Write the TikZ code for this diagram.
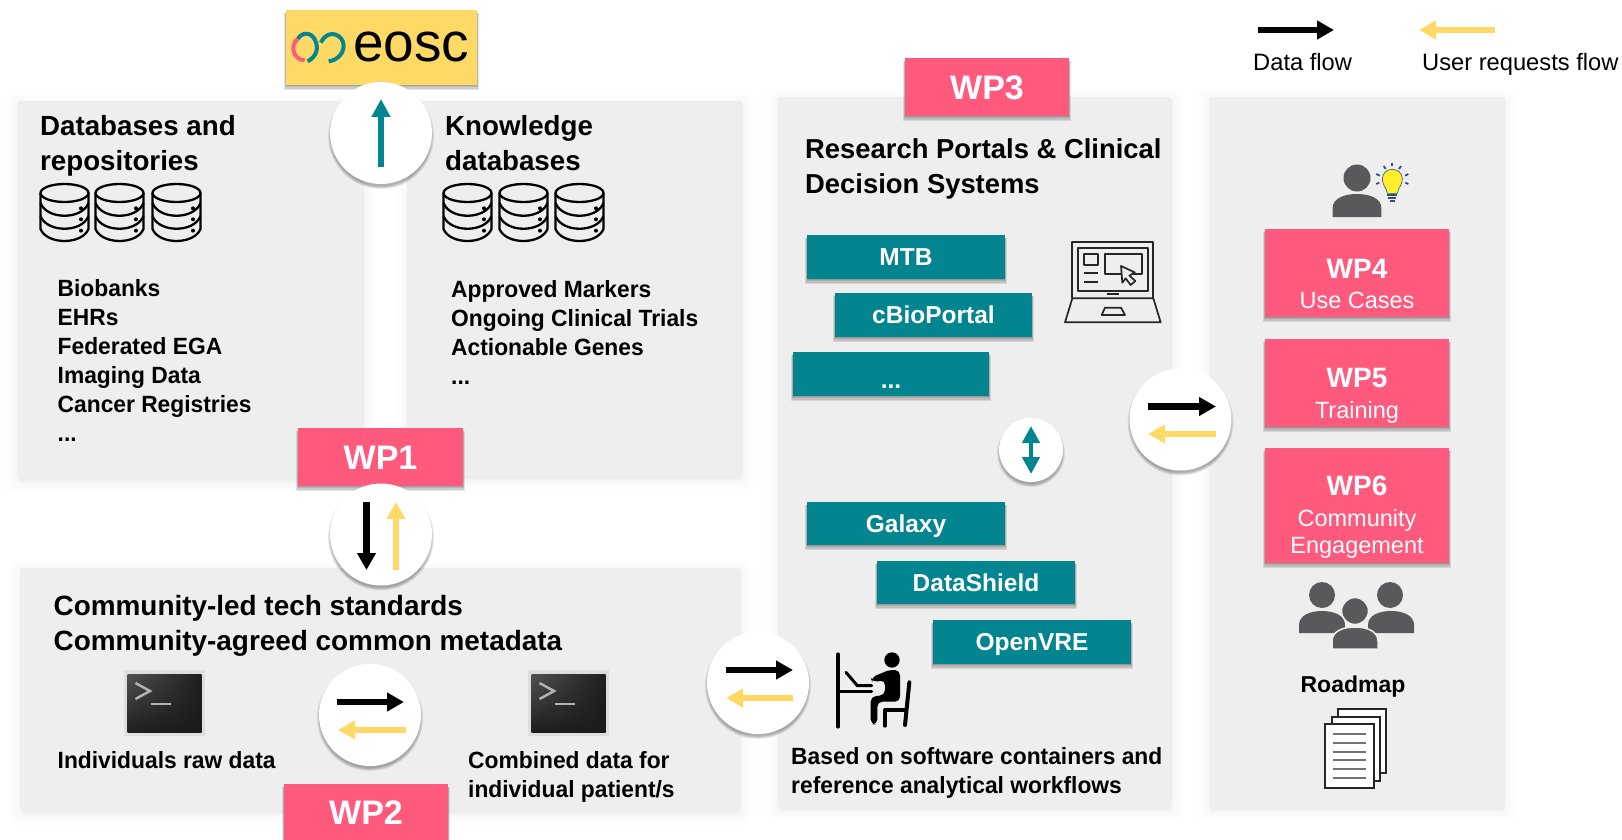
\documentclass[tikz,border=0pt]{standalone}
\usepackage{fontspec}
\setmainfont{Liberation Sans}
\newfontfamily\bodyfam[FakeStretch=0.97]{Liberation Sans}
\usetikzlibrary{arrows.meta,shadings}
\definecolor{wppink}{HTML}{FF5A7E}
\definecolor{flowyellow}{HTML}{FFD966}
\definecolor{wpteal}{HTML}{02858F}
\definecolor{panelgray}{HTML}{EEEEEE}
\definecolor{icongray}{HTML}{58595B}
\definecolor{eoscyellow}{HTML}{FFD966}
\definecolor{navy}{HTML}{2F4A85}
\tikzset{
  panel/.style={rectangle,rounded corners=3pt,fill=panelgray,inner sep=0pt},
  wpbox/.style={rectangle,fill=wppink,inner sep=0pt,text=white,font=\fontsize{34}{40}\selectfont\bfseries,text height=24.5pt,text depth=0pt},
  wpsub/.style={rectangle,fill=wppink,inner sep=0pt},
  tealbox/.style={rectangle,fill=wpteal,inner sep=0pt,text=white,font=\fontsize{24.5}{30}\selectfont\bfseries,text height=17.5pt,text depth=0pt},
  bubble/.style={circle,fill=white,inner sep=0pt},
  head/.style={inner sep=0pt,anchor=base west,align=left,font=\fontsize{27.7}{34.5}\selectfont\bfseries},
  body/.style={inner sep=0pt,anchor=base west,align=left,font=\bodyfam\fontsize{23.5}{29}\selectfont\bfseries},
  legendtxt/.style={inner sep=0pt,anchor=base west,font=\fontsize{23.7}{29}\selectfont},
  wptitle/.style={inner sep=0pt,anchor=base,text=white,font=\fontsize{28}{34}\selectfont\bfseries},
  wpline/.style={inner sep=0pt,anchor=base,text=white,font=\fontsize{23.5}{29}\selectfont},
  blackflow/.style={line width=6.5pt,black,-{Triangle[length=17pt,width=18pt]}},
  yellowflow/.style={line width=6.5pt,flowyellow,-{Triangle[length=17pt,width=18pt]}},
  tealflow/.style={line width=6pt,wpteal,-{Triangle[length=18pt,width=18pt]}},
  tealboth/.style={line width=4.5pt,wpteal,{Triangle[length=17pt,width=17pt]}-{Triangle[length=17pt,width=17pt]}},
}
% panel shadow: opaque greys fading out from the panel edge, darker under the panel
\newcommand{\softrect}[4]{%
  \foreach \i in {10,9,...,1}{\pgfmathsetmacro{\shd}{.03*(11-\i)*(11-\i)}
    \fill[black!\shd,rounded corners=5pt]
    ({#1-1.4*\i},{#2+3-1.4*\i}) rectangle ({#3+1.4*\i},{#4+3+1.4*\i});}
  \fill[black!4.5,rounded corners=2pt] ({#1+1},#4) rectangle ({#3-1},{#4+4});
  \fill[black!7,rounded corners=1pt] ({#1+2},#4) rectangle ({#3-2},{#4+2});}
% box shadow: tight, on the lower edge
\newcommand{\hardrect}[4]{%
  \foreach \i in {1,...,4}{\fill[black,opacity=.1]
    ({#1-.45*\i},{#2+3}) rectangle ({#3+.45*\i},{#4+1.2*\i});}}
\newcommand{\bx}[7]{% style,name,x1,y1,x2,y2,text
  \node[#1,minimum width={(#5-#3)*1pt},minimum height={(#6-#4)*1pt}] (#2) at ({(#3+#5)/2},{(#4+#6)/2}) {#7};}
\newcommand{\pnl}[5]{\softrect{#2}{#3}{#4}{#5}\bx{panel}{#1}{#2}{#3}{#4}{#5}{}}
\newcommand{\wpb}[6]{\hardrect{#2}{#3}{#4}{#5}\bx{wpbox}{#1}{#2}{#3}{#4}{#5}{#6}}
\newcommand{\wps}[5]{\hardrect{#2}{#3}{#4}{#5}\bx{wpsub}{#1}{#2}{#3}{#4}{#5}{}}
\newcommand{\tlb}[6]{\hardrect{#2}{#3}{#4}{#5}\bx{tealbox}{#1}{#2}{#3}{#4}{#5}{#6}}
\newcommand{\bub}[4]{% name,cx,cy,r
  \foreach \i in {1,...,5}{\fill[black,opacity=.07] (#2,{#3+3}) circle ({#4+.7*\i-1.5});}
  \node[bubble,minimum size={2*#4*1pt}] (#1) at (#2,#3) {};}
\newcommand{\arr}[6]{% style,name,x1,y1,x2,y2
  \coordinate (#2s) at (#3,#4); \coordinate (#2e) at (#5,#6);
  \draw[#1] (#2s) -- (#2e);}
\newcommand{\dbicon}[1]{%
  \begin{scope}[shift={(#1,183)},line width=2.3pt,black]
    \draw (25.5,10) ellipse (24 and 9);
    \draw (1.5,10) -- (1.5,46) .. controls (8,62) and (43,62) .. (49.5,46) -- (49.5,10);
    \draw (1.5,20) .. controls (8,37) and (43,37) .. (49.5,20);
    \draw (1.5,33) .. controls (8,50) and (43,50) .. (49.5,33);
    \foreach \d in {25.3,36.3,47.7}{\fill (42,\d) circle (2);}
  \end{scope}}
\newcommand{\terminal}[1]{%
  \fill[black!13] (#1,670) rectangle ({#1+81.5},736);
  \shade[upper left=black!68,upper right=black!88,lower left=black!88,lower right=black!90] ({#1+4},674) rectangle ({#1+78},732);
  \draw[black!30,line width=2.5pt] ({#1+12},683) -- ({#1+26.5},691) -- ({#1+12},699);
  \draw[black!30,line width=2pt] ({#1+27},704) -- ({#1+47.5},704);}
\newcommand{\persongray}[5]{% cx,top,halfw,bottom,extra style
  \path[fill=icongray,#5] ({#1-#3},#4) -- ({#1-#3},{#2+14}) .. controls ({#1-#3},{#2+4}) and ({#1-.5*#3},#2) .. (#1,#2)
    .. controls ({#1+.5*#3},#2) and ({#1+#3},{#2+4}) .. ({#1+#3},{#2+14}) -- ({#1+#3},#4) -- cycle;}
\begin{document}
\begin{tikzpicture}[x=1pt,y=-1pt]
\path[use as bounding box] (0,0) rectangle (1622,840);
\fill[white] (0,0) rectangle (1622,840);
% panels
\pnl{dbpanel}{17}{101}{364}{479}
\pnl{kbpanel}{407}{101}{743}{477}
\pnl{stdpanel}{20}{568}{741}{811}
\pnl{portalpanel}{778}{97}{1172}{808}
\pnl{usepanel}{1209}{97}{1505}{808}
% eosc
\hardrect{286}{10}{477}{85}
\bx{panel,rounded corners=0pt,fill=eoscyellow}{eoscbox}{286}{10}{477}{85}{}
\begin{scope}[shift={(286,10)},scale=1/3,line width=4pt,line cap=butt]
  \draw[wppink] (36,86) .. controls (10,105) and (22,150) .. (56,151);
  \draw[wpteal] (36,86) .. controls (48,65) and (78,66) .. (88,92) .. controls (98,115) and (92,140) .. (65,154);
  \draw[wpteal] (105,98) .. controls (115,72) and (145,62) .. (165,85) .. controls (185,110) and (165,150) .. (128,154);
\end{scope}
\node[inner sep=0pt,anchor=base west,font=\fontsize{55}{60}\selectfont] (eosctxt) at (353,62) {eosc};
% headings and lists
\node[head] (dbh) at (40,170) {Databases and\\repositories};
\node[head] (kbh) at (445,170) {Knowledge\\databases};
\dbicon{39}\dbicon{94}\dbicon{151}
\dbicon{442}\dbicon{498}\dbicon{554}
\node[body] (dblist) at (57.5,441.5) {Biobanks\\EHRs\\Federated EGA\\Imaging Data\\Cancer Registries\\...};
\node[body] (kblist) at (451,384) {Approved Markers\\Ongoing Clinical Trials\\Actionable Genes\\...};
\node[head,font=\fontsize{27.9}{34.5}\selectfont\bfseries] (stdh) at (53.5,650) {Community-led tech standards\\Community-agreed common metadata};
\terminal{123.5}\terminal{527.5}
\node[body] (rawtxt) at (57.5,768) {Individuals raw data};
\node[body] (combtxt) at (468,797) {Combined data for\\individual patient/s};
\node[head,font=\fontsize{27.4}{34.5}\selectfont\bfseries] (rph) at (805,193) {Research Portals \& Clinical\\Decision Systems};
\node[body] (basedtxt) at (791,793) {Based on software containers and\\reference analytical workflows};
% teal boxes
\tlb{mtb}{807}{235}{1005}{279}{MTB}
\tlb{cbio}{835}{293}{1032}{337}{cBioPortal}
\tlb{dots}{793}{352}{989}{396}{\raisebox{-6pt}{...}}
\tlb{galaxy}{807}{502}{1005}{545}{Galaxy}
\tlb{dshield}{877}{561}{1075}{604}{DataShield}
\tlb{openvre}{933}{620}{1131}{664}{OpenVRE}
% laptop
\begin{scope}[shift={(1060,235)},scale=1/3,line width=1.7pt,draw=black!85,line join=round]
  \draw (37,190) -- (37,22) -- (280,22) -- (280,190);
  \draw (55,40) rectangle (263,168);
  \draw (72,58) rectangle (115,90);
  \draw (72,115) -- (115,115); \draw (72,140) -- (115,140);
  \draw (135,58) rectangle (245,118);
  \draw[fill=panelgray] (183,93) -- (224,112) -- (208,122) -- (226,138) -- (212,150) -- (197,130) -- (187,143) -- cycle;
  \draw (37,190) -- (280,190) -- (302,262) -- (15,262) -- cycle;
  \draw (140,178) -- (178,178);
  \draw (125,240) -- (135,218) -- (183,218) -- (195,240) -- cycle;
\end{scope}
% person at desk
\begin{scope}[shift={(830,645)},scale=1/3,black,line cap=round,line join=round]
  \draw[line width=3.8pt] (24,28) -- (24,245);
  \draw[line width=3.2pt] (24,140) -- (125,140);
  \draw[line width=3pt] (48,82) -- (82,122) -- (125,122);
  \fill (186,45) circle (23);
  \fill[rounded corners=5pt] (122,98) -- (180,74) -- (210,76) -- (210,170) -- (142,170) -- (142,238) -- (122,238) -- (122,155) -- (165,150) -- (165,105) -- (127,112) -- cycle;
  \draw[line width=4pt] (238,112) -- (225,240);
  \draw[line width=4pt] (225,195) -- (165,195) -- (165,242);
\end{scope}
% WP boxes
\wpb{wpone}{298}{428}{463}{486}{WP1}
\wpb{wptwo}{284}{784}{448}{840}{WP2}
\wpb{wpthree}{905}{58}{1069}{116}{WP3}
\wps{wpfour}{1265}{229}{1449}{317}
\wps{wpfive}{1265}{339}{1449}{427}
\wps{wpsix}{1265}{448}{1449}{563}
\node[wptitle] (t4) at (1357,278) {WP4};
\node[wpline] (u4) at (1357,308) {Use Cases};
\node[wptitle] (t5) at (1357,387) {WP5};
\node[wpline] (u5) at (1357,418) {Training};
\node[wptitle] (t6) at (1357,495) {WP6};
\node[wpline] (u6) at (1357,526) {Community};
\node[wpline] (v6) at (1357,553) {Engagement};
% person and lightbulb
\fill[icongray] (1357,178) circle (13.5);
\persongray{1357}{194}{24.3}{217}{}
\begin{scope}[shift={(1330,155)},scale=1/3]
  \fill[flowyellow!40!yellow,draw=navy,line width=.6pt] (172,115) .. controls (168,95) and (157,90) .. (157,72) .. controls (157,55) and (170,43) .. (187,43) .. controls (204,43) and (217,55) .. (217,72) .. controls (217,90) and (206,95) .. (202,115) -- cycle;
  \fill[navy] (172,118) rectangle (202,124); \fill[navy] (175,127) rectangle (199,133); \fill[navy] (179,136) rectangle (195,142);
  \begin{scope}[navy,line width=1.8pt]
    \draw (187,24) -- (187,34); \draw (161,33) -- (167,42); \draw (213,33) -- (207,42);
    \draw (139,57) -- (149,62); \draw (235,57) -- (225,62); \draw (139,87) -- (148,83); \draw (235,87) -- (226,83);
  \end{scope}
\end{scope}
% community
\fill[icongray] (1322,595) circle (13);
\fill[icongray] (1390,595) circle (13);
\persongray{1322}{611}{23}{633}{}
\persongray{1391}{611}{23}{633}{}
\persongray{1355}{627}{23}{649}{draw=panelgray,line width=1.5pt}
\path[fill=icongray,draw=panelgray,line width=1.5pt] (1355,611) circle (13.5);
% roadmap
\node[inner sep=0pt,anchor=base,font=\fontsize{23}{28}\selectfont\bfseries] (roadtxt) at (1353,692) {Roadmap};
\begin{scope}[draw=black!85,fill=white,line width=1.5pt]
  \filldraw (1338,709) rectangle (1386,773);
  \filldraw (1332,717) rectangle (1380,781);
  \filldraw (1325,724) rectangle (1374,788);
  \foreach \d in {734,743,751.7,760.3,769,777.7}{\draw[black!55,line width=1.7pt] (1333,\d) -- (1366,\d);}
\end{scope}
% bubbles and flows
\bub{bubeosc}{381}{133}{51}
\arr{tealflow}{aeosc}{381}{167}{381}{99}
\bub{bubwpa}{381}{534.5}{51}
\arr{blackflow}{awpa}{366.5}{502}{366.5}{570}
\arr{yellowflow}{bwpa}{396}{570}{396}{502}
\bub{bubstd}{370}{715}{51}
\arr{blackflow}{astd}{337}{702}{404}{702}
\arr{yellowflow}{bstd}{406}{730}{338}{730}
\bub{bubport}{758}{683}{51}
\arr{blackflow}{aport}{726}{670}{793}{670}
\arr{yellowflow}{bport}{793}{698}{726}{698}
\bub{bubuse}{1180.5}{419.5}{51}
\arr{blackflow}{ause}{1148}{406.5}{1216}{406.5}
\arr{yellowflow}{buse}{1216}{434}{1148}{434}
\bub{bubmid}{1031}{450}{32}
\arr{tealboth}{amid}{1031}{426}{1031}{474}
% legend
\arr{blackflow}{aleg}{1258}{30}{1334}{30}
\arr{yellowflow}{bleg}{1495}{30}{1419}{30}
\node[legendtxt] (leg1) at (1253,71) {Data flow};
\node[legendtxt] (leg2) at (1422,71) {User requests flow};
\end{tikzpicture}
\end{document}
